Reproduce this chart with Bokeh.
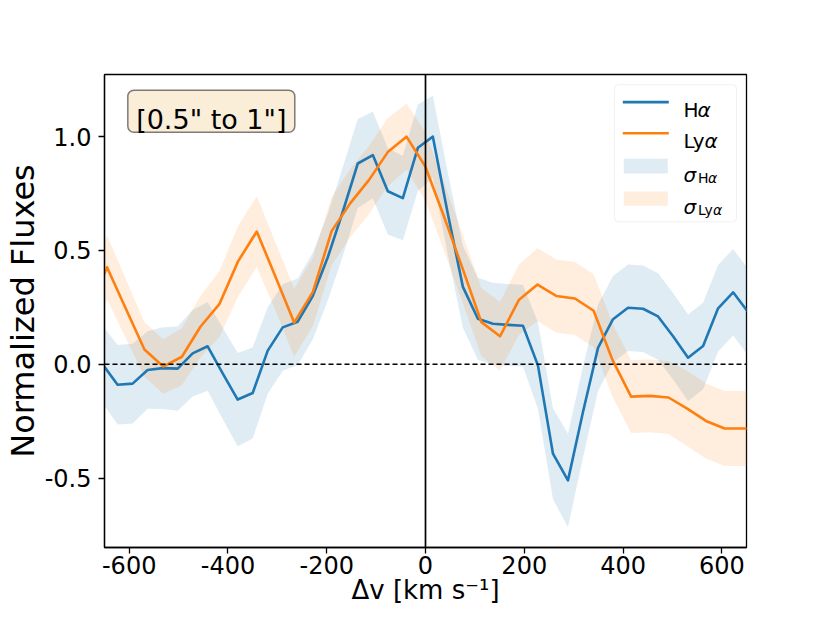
from bokeh.plotting import figure
from bokeh.models import Range1d, FixedTicker, Span, Label, BoxAnnotation
from bokeh.embed import file_html
from bokeh.resources import INLINE

# ---------------- data ----------------
v_halpha = [-653.9, -623.5, -593.1, -562.7, -532.3, -501.9, -471.5, -441.1, -410.7, -380.3,
            -349.9, -319.5, -289.1, -258.7, -228.3, -197.9, -167.5, -137.1, -106.7, -76.3,
            -45.9, -15.5, 14.9, 45.3, 75.7, 106.1, 136.5, 166.9, 197.3, 227.7,
            258.1, 288.5, 318.9, 349.3, 379.7, 410.1, 440.5, 470.9, 501.3, 531.7,
            562.1, 592.5, 622.9, 653.3]
flux_halpha = [0.0, -0.09, -0.085, -0.025, -0.017, -0.019, 0.048, 0.079, -0.04, -0.155,
               -0.126, 0.06, 0.162, 0.187, 0.30, 0.47, 0.67, 0.882, 0.919, 0.76,
               0.73, 0.951, 1.0, 0.66, 0.34, 0.2, 0.178, 0.173, 0.169, -0.005,
               -0.393, -0.51, -0.21, 0.072, 0.198, 0.248, 0.244, 0.21, 0.123, 0.029,
               0.08, 0.246, 0.316, 0.229]
sigma_halpha = [0.17, 0.175, 0.175, 0.17, 0.18, 0.185, 0.19, 0.195, 0.2, 0.205,
                0.2, 0.19, 0.19, 0.19, 0.19, 0.19, 0.195, 0.195, 0.19, 0.19,
                0.185, 0.19, 0.18, 0.18, 0.18, 0.18, 0.18, 0.18, 0.18, 0.19,
                0.2, 0.205, 0.2, 0.19, 0.19, 0.19, 0.19, 0.19, 0.19, 0.19,
                0.19, 0.19, 0.19, 0.19]

v_lyalpha = [-682.8, -644.9, -607.0, -569.1, -531.2, -493.3, -455.4, -417.5, -379.6, -341.7,
             -303.8, -265.9, -228.0, -190.1, -152.2, -114.3, -76.4, -38.5, -0.6, 37.3,
             75.2, 113.1, 151.0, 188.9, 226.8, 264.7, 302.6, 340.5, 378.4, 416.3,
             454.2, 492.1, 530.0, 567.9, 605.8, 643.7, 681.6]
flux_lyalpha = [0.22, 0.426, 0.245, 0.065, -0.01, 0.033, 0.166, 0.264, 0.452, 0.583,
                0.385, 0.183, 0.318, 0.585, 0.708, 0.81, 0.932, 1.0, 0.87, 0.65,
                0.42, 0.185, 0.123, 0.282, 0.35, 0.30, 0.289, 0.235, 0.02, -0.142,
                -0.139, -0.146, -0.195, -0.249, -0.282, -0.282, -0.282]
sigma_lyalpha = [0.14, 0.14, 0.13, 0.12, 0.12, 0.125, 0.135, 0.145, 0.155, 0.155,
                 0.15, 0.15, 0.15, 0.15, 0.15, 0.15, 0.15, 0.145, 0.15, 0.15,
                 0.15, 0.15, 0.15, 0.155, 0.16, 0.16, 0.16, 0.16, 0.16, 0.16,
                 0.16, 0.16, 0.165, 0.165, 0.165, 0.165, 0.165]

x_tick_values = [-600, -400, -200, 0, 200, 400, 600]
x_tick_labels = ["-600", "-400", "-200", "0", "200", "400", "600"]
y_tick_values = [-0.5, 0, 0.5, 1]
y_tick_labels = ["-0.5", "0.0", "0.5", "1.0"]

x_label = "Δv [km s⁻¹]"
y_label = "Normalized Fluxes"
box_text = '[0.5" to 1"]'

# ---------------- styling ----------------
BLUE = "#1f77b4"
ORANGE = "#ff7f0e"
FONT = "DejaVu Sans"
BAND_ALPHA = 0.14

X_MIN, X_MAX = -650, 650
Y_MIN, Y_MAX = -0.805, 1.273

W, H = 814, 607
BL, BR, BT, BB = 104, 68, 74, 57

p = figure(width=W, height=H, output_backend="svg", toolbar_location=None,
           x_range=Range1d(X_MIN, X_MAX), y_range=Range1d(Y_MIN, Y_MAX),
           min_border_left=BL, min_border_right=BR, min_border_top=BT, min_border_bottom=BB)
p.xgrid.visible = False
p.ygrid.visible = False
p.outline_line_color = "black"
p.outline_line_width = 1.3
p.outline_line_alpha = 1.0
p.background_fill_color = "white"
p.border_fill_color = "white"

# reference-picture frame (pixels) used to place the annotation box and legend
RF_L, RF_T, RF_W, RF_H = 104, 74.7, 642, 479.3


def xd(px):
    return X_MIN + (px - RF_L) / RF_W * (X_MAX - X_MIN)


def yd(py):
    return Y_MAX - (py - RF_T) / RF_H * (Y_MAX - Y_MIN)


# uncertainty bands
ha_lo = [f - s for f, s in zip(flux_halpha, sigma_halpha)]
ha_hi = [f + s for f, s in zip(flux_halpha, sigma_halpha)]
ly_lo = [f - s for f, s in zip(flux_lyalpha, sigma_lyalpha)]
ly_hi = [f + s for f, s in zip(flux_lyalpha, sigma_lyalpha)]
p.varea(x=v_halpha, y1=ha_lo, y2=ha_hi, fill_color=BLUE, fill_alpha=BAND_ALPHA)
p.varea(x=v_lyalpha, y1=ly_lo, y2=ly_hi, fill_color=ORANGE, fill_alpha=BAND_ALPHA)

# lines
p.line(v_halpha, flux_halpha, line_color=BLUE, line_width=2.6, line_join="round")
p.line(v_lyalpha, flux_lyalpha, line_color=ORANGE, line_width=2.6, line_join="round")

# reference lines
p.add_layout(Span(location=0, dimension="width", line_color="black",
                  line_width=1.3, line_dash="5 3"))
p.add_layout(Span(location=0, dimension="height", line_color="black", line_width=1.7))

# axes
for ax in (p.xaxis[0], p.yaxis[0]):
    ax.axis_line_color = "black"
    ax.axis_line_width = 1.3
    ax.major_tick_line_color = "black"
    ax.major_tick_line_width = 1.3
    ax.major_tick_out = 6
    ax.major_tick_in = 0
    ax.minor_tick_line_color = None
    ax.major_label_text_font = FONT
    ax.major_label_text_font_size = "24px"
    ax.major_label_text_color = "black"
    ax.axis_label_text_font = FONT
    ax.axis_label_text_font_style = "normal"
    ax.axis_label_text_color = "black"

p.xaxis.ticker = FixedTicker(ticks=x_tick_values)
p.xaxis.major_label_overrides = dict(zip(x_tick_values, x_tick_labels))
p.xaxis.axis_label = x_label
p.xaxis.axis_label_text_font_size = "26px"
p.xaxis.axis_label_standoff = -2
p.xaxis.major_label_standoff = 2

p.yaxis.ticker = FixedTicker(ticks=y_tick_values)
p.yaxis.major_label_overrides = dict(zip(y_tick_values, y_tick_labels))
p.yaxis.axis_label = y_label
p.yaxis.axis_label_text_font_size = "32px"
p.yaxis.axis_label_standoff = 0
p.yaxis.major_label_standoff = 7

# annotation box
p.add_layout(BoxAnnotation(left=xd(127.3), right=xd(294.3), top=yd(90.7), bottom=yd(133.3),
                           fill_color="#f5deb3", fill_alpha=0.5, line_color="black",
                           line_alpha=0.5, line_width=1.5, border_radius=6, level="underlay"))
p.add_layout(Label(x=xd(210.8), y=yd(120.5), text=box_text, text_align="center",
                   text_baseline="alphabetic", text_font=FONT, text_font_size="27px",
                   text_color="black"))

# legend (drawn by hand for the sub-scripts)
p.add_layout(BoxAnnotation(left=xd(614), right=xd(736), top=yd(85), bottom=yd(224),
                           fill_color="white", fill_alpha=0.8, line_color="#cccccc",
                           line_width=1, border_radius=4, level="underlay"))
p.line([xd(622.3), xd(668.3)], [yd(102.7), yd(102.7)], line_color=BLUE, line_width=2.6)
p.line([xd(622.3), xd(668.3)], [yd(134.3), yd(134.3)], line_color=ORANGE, line_width=2.6)
p.quad(left=[xd(623.3)], right=[xd(667.3)], top=[yd(160)], bottom=[yd(175)],
       fill_color=BLUE, fill_alpha=BAND_ALPHA, line_color=None)
p.quad(left=[xd(623.3)], right=[xd(667.3)], top=[yd(193.3)], bottom=[yd(207.7)],
       fill_color=ORANGE, fill_alpha=BAND_ALPHA, line_color=None)


def txt(x, y, s, size, style="normal"):
    p.add_layout(Label(x=xd(x), y=yd(y), text=s, text_baseline="alphabetic",
                       text_align="left", text_font=FONT, text_font_size=size,
                       text_font_style=style, text_color="black"))


txt(683, 110.7, "H", "20px")
txt(697, 110.7, "α", "20px", "italic")
txt(683, 142.3, "Ly", "20px")
txt(704, 142.3, "α", "20px", "italic")
txt(683, 176.7, "σ", "20px", "italic")
txt(697.5, 179.3, "H", "14px")
txt(707.5, 179.3, "α", "14px", "italic")
txt(683, 209.0, "σ", "20px", "italic")
txt(697.5, 212.3, "Ly", "14px")
txt(712.5, 212.3, "α", "14px", "italic")

open("out.html", "w").write(file_html(p, INLINE))
